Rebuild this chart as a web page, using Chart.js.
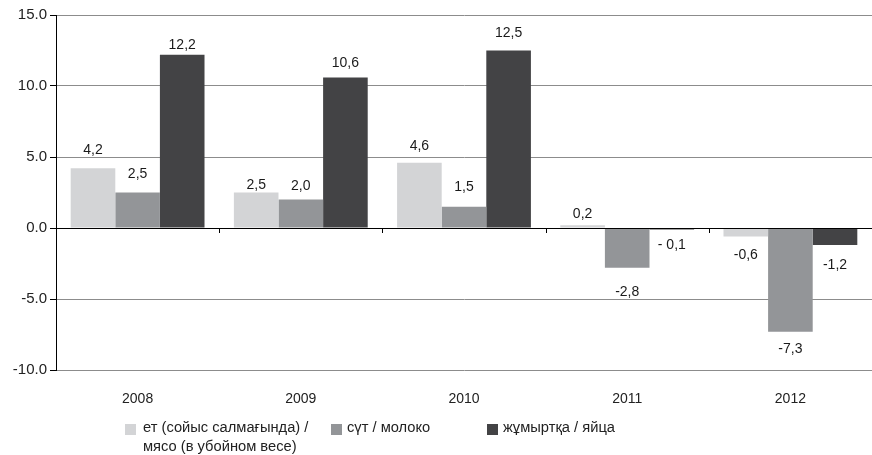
<!DOCTYPE html>
<html>
<head>
<meta charset="utf-8">
<script src="https://cdn.jsdelivr.net/npm/chart.js@4"></script>
<style>
  html, body { margin: 0; padding: 0; background: #fff; }
  #wrap { position: relative; width: 872px; height: 455px; font-family: "Liberation Sans", Arial, sans-serif; }
  canvas { position: absolute; left: 0; top: 0; }
  .lg { position: absolute; font-size: 14.7px; color: #222; line-height: 19px; white-space: nowrap; }
  .sw { position: absolute; width: 11px; height: 11px; }
</style>
</head>
<body>
<div id="wrap">
  <canvas id="c" width="872" height="455"></canvas>
  <div class="sw" style="left:125px;top:424px;background:#d3d4d6;"></div>
  <div class="lg" id="lg0" style="left:143px;top:418px;"></div>
  <div class="sw" style="left:331px;top:424px;background:#939598;"></div>
  <div class="lg" id="lg1" style="left:347px;top:418px;"></div>
  <div class="sw" style="left:487px;top:424px;background:#434345;"></div>
  <div class="lg" id="lg2" style="left:503px;top:418px;"></div>
</div>
<script>
const years = ["2008", "2009", "2010", "2011", "2012"];
const meat = [4.2, 2.5, 4.6, 0.2, -0.6];
const milk = [2.5, 2.0, 1.5, -2.8, -7.3];
const eggs = [12.2, 10.6, 12.5, -0.1, -1.2];
const seriesNames = ["ет (сойыс салмағында) /\nмясо (в убойном весе)", "сүт / молоко", "жұмыртқа / яйца"];
const yTicks = [-10, -5, 0, 5, 10, 15];
const seriesColors = ["#d3d4d6", "#939598", "#434345"];
// styling: gap in px between bar end and its value label
const labelGaps = [
  [14, 4, 13, 7, 12],
  [15, 10, 16, 17, 10],
  [6, 10, 14, 9, 13]
];

seriesNames.forEach((n, i) => {
  document.getElementById('lg' + i).innerHTML = n.split('\n').join('<br>');
});

function fmt(v, si, i) {
  let s = v.toFixed(1).replace('.', ',');
  if (si === 2 && i === 3) s = s.replace('-', '- ');
  return s;
}

const valueLabels = {
  id: 'valueLabels',
  afterDatasetsDraw(chart) {
    const ctx = chart.ctx;
    ctx.save();
    ctx.font = '14px "Liberation Sans", Arial, sans-serif';
    ctx.fillStyle = '#1a1a1a';
    ctx.textAlign = 'center';
    chart.data.datasets.forEach((ds, si) => {
      const meta = chart.getDatasetMeta(si);
      meta.data.forEach((bar, i) => {
        const v = ds.data[i];
        const gap = labelGaps[si][i];
        const t = fmt(v, si, i);
        if (v >= 0) {
          ctx.textBaseline = 'alphabetic';
          ctx.fillText(t, bar.x, bar.y - gap);
        } else {
          ctx.textBaseline = 'top';
          ctx.fillText(t, bar.x, bar.y + gap);
        }
      });
    });
    ctx.restore();
  }
};

const zeroTicks = {
  id: 'zeroTicks',
  afterDatasetsDraw(chart) {
    const ctx = chart.ctx;
    const x = chart.scales.x, y = chart.scales.y;
    const y0 = y.getPixelForValue(0);
    ctx.save();
    ctx.strokeStyle = '#000';
    ctx.lineWidth = 1;
    ctx.beginPath();
    ctx.moveTo(chart.chartArea.left, Math.round(y0) + 0.5);
    ctx.lineTo(chart.chartArea.right, Math.round(y0) + 0.5);
    for (let i = 1; i < years.length; i++) {
      const px = Math.round(x.getPixelForValue(i - 0.5)) + 0.5;
      ctx.moveTo(px, y0);
      ctx.lineTo(px, y0 + 5);
    }
    ctx.stroke();
    ctx.restore();
  }
};

new Chart(document.getElementById('c'), {
  type: 'bar',
  data: {
    labels: years,
    datasets: [
      { label: seriesNames[0], data: meat, backgroundColor: seriesColors[0] },
      { label: seriesNames[1], data: milk, backgroundColor: seriesColors[1] },
      { label: seriesNames[2], data: eggs, backgroundColor: seriesColors[2] }
    ]
  },
  options: {
    responsive: false,
    devicePixelRatio: 1,
    animation: false,
    layout: { padding: { top: 15, right: 0, left: 0, bottom: 45 } },
    datasets: { bar: { categoryPercentage: 0.82, barPercentage: 1.0 } },
    plugins: { legend: { display: false }, tooltip: { enabled: false } },
    scales: {
      x: {
        grid: { display: false },
        border: { display: false },
        afterFit(scale) { scale.height = 40; },
        ticks: { color: '#222', padding: 13, font: { size: 14, family: '"Liberation Sans", Arial, sans-serif' } }
      },
      y: {
        min: -10, max: 15,
        afterBuildTicks(scale) { scale.ticks = yTicks.map(v => ({ value: v })); },
        afterFit(scale) { scale.width = 56; },
        grid: {
          color: ctx => ctx.tick && ctx.tick.value === 0 ? '#000' : '#8c8c8c',
          tickColor: '#000',
          tickLength: 6
        },
        border: { color: '#000', width: 1 },
        ticks: {
          color: '#222', padding: 3,
          font: { size: 15, family: '"Liberation Sans", Arial, sans-serif' },
          callback: v => v.toFixed(1)
        }
      }
    }
  },
  plugins: [valueLabels, zeroTicks]
});
</script>
</body>
</html>
